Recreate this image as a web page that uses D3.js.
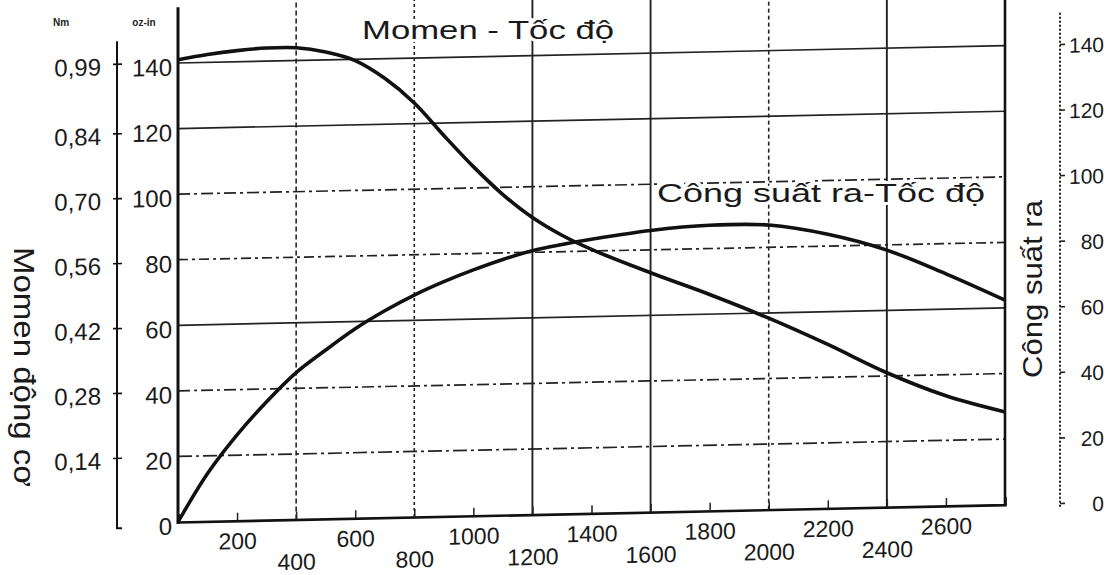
<!DOCTYPE html>
<html>
<head>
<meta charset="utf-8">
<script src="https://cdn.jsdelivr.net/npm/d3@7/dist/d3.min.js"></script>
<style>
  body { margin: 0; background: #fff; }
  svg { display: block; font-family: "Liberation Sans", Arial, sans-serif; }
</style>
</head>
<body>
<div id="chart"></div>
<script>
// speed (rpm) sample points
const rpm = [0, 100, 200, 300, 400, 500, 600, 700, 800, 900, 1000, 1100, 1200, 1300, 1400, 1600, 1800, 2000, 2200, 2400, 2600, 2800];
// torque, oz-in
const torque = [141, 142.4, 143.4, 144, 143.9, 142.4, 139.6, 134, 126.3, 116.2, 106.5, 97.8, 90.6, 85, 80.5, 73, 66, 58.4, 50, 41, 33.6, 28.3];
// output power (right scale)
const power = [0, 14.6, 26.2, 36.1, 44.8, 51.5, 57.8, 63.1, 67.7, 71.6, 75, 78, 80.5, 82.2, 83.6, 85.9, 87.1, 86.8, 83.6, 78.4, 70.8, 62.4];

const xTicks = [200, 400, 600, 800, 1000, 1200, 1400, 1600, 1800, 2000, 2200, 2400, 2600];
const ozTicks = [0, 20, 40, 60, 80, 100, 120, 140];
const nmTicks = [0.14, 0.28, 0.42, 0.56, 0.70, 0.84, 0.99];
const powerTicks = [0, 20, 40, 60, 80, 100, 120, 140];
const vGrid = [400, 800, 1200, 1600, 2000, 2400];
const hGrid = [20, 40, 60, 80, 100, 120, 140];

const width = 1119, height = 575;
const left = 178, plotW = 827;

// the scanned chart leans a little, horizontal lines rise to the right
const tilt = -1.2;

const dashH = { 20: "14,4,3,4", 40: "12,4,3,4", 60: null, 80: "10,4,3,4", 100: "12,4,3,4", 120: null, 140: null };
const dashV = { 400: "5,3", 800: "3,3", 1200: null, 1600: null, 2000: "4,3", 2400: null };

const svg = d3.select("#chart").append("svg")
  .attr("width", width)
  .attr("height", height);

svg.append("rect").attr("width", width).attr("height", height).attr("fill", "#fff");

const x = d3.scaleLinear().domain([0, 2800]).range([0, plotW]);
const y = d3.scaleLinear().domain([0, 140]).range([522, 63]);
const yNm = d3.scaleLinear().domain([0, 0.99]).range([y(0), y(140)]);

const g = svg.append("g")
  .attr("transform", `translate(${left},0) skewY(${tilt})`);

// grid
g.append("g").selectAll("line")
  .data(hGrid)
  .join("line")
  .attr("x1", x(0)).attr("x2", x(2800))
  .attr("y1", d => y(d)).attr("y2", d => y(d))
  .attr("stroke", "#222")
  .attr("stroke-width", 1.7)
  .attr("stroke-dasharray", d => dashH[d]);

g.append("g").selectAll("line")
  .data(vGrid)
  .join("line")
  .attr("x1", d => x(d)).attr("x2", d => x(d))
  .attr("y1", y(0)).attr("y2", y(160))
  .attr("stroke", "#222")
  .attr("stroke-width", d => dashV[d] ? 1.6 : 1.9)
  .attr("stroke-dasharray", d => dashV[d]);

// frame
g.append("line")
  .attr("x1", x(0)).attr("x2", x(0))
  .attr("y1", y(0) + 2).attr("y2", y(157))
  .attr("stroke", "#111").attr("stroke-width", 3);
g.append("line")
  .attr("x1", x(2800)).attr("x2", x(2800))
  .attr("y1", y(0) + 1).attr("y2", y(160))
  .attr("stroke", "#111").attr("stroke-width", 2.6);

// bottom axis
const xAxis = g.append("g")
  .attr("transform", `translate(0,${y(0)})`)
  .call(d3.axisBottom(x).tickValues(xTicks).tickSize(-8).tickPadding(12).tickFormat(d3.format("d")));
xAxis.select(".domain").attr("stroke", "#111").attr("stroke-width", 2.6);
xAxis.selectAll(".tick line").attr("stroke", "#222").attr("stroke-width", 1.5);
xAxis.selectAll(".tick text")
  .attr("font-size", 23)
  .attr("fill", "#1a1a1a")
  .attr("font-family", "Liberation Sans, Arial, sans-serif")
  .attr("y", d => d % 400 === 0 ? 34 : 12);

// inner left axis (oz-in)
const yAxis = g.append("g")
  .call(d3.axisLeft(y).tickValues(ozTicks).tickSize(0).tickPadding(6));
yAxis.select(".domain").remove();
yAxis.selectAll(".tick text")
  .attr("font-size", 24)
  .attr("fill", "#1a1a1a")
  .attr("dy", "0.5em")
  .attr("font-family", "Liberation Sans, Arial, sans-serif");

// outer left axis (Nm)
const nmAxis = g.append("g").attr("transform", "translate(-61,0)");
nmAxis.append("path")
  .attr("d", `M0,${y(147)}V${y(0) + 5}h5`)
  .attr("fill", "none")
  .attr("stroke", "#111")
  .attr("stroke-width", 2);
nmAxis.selectAll(".tk")
  .data(nmTicks)
  .join("line")
  .attr("class", "tk")
  .attr("x1", -4).attr("x2", 5)
  .attr("y1", d => yNm(d)).attr("y2", d => yNm(d))
  .attr("stroke", "#111").attr("stroke-width", 1.6);
nmAxis.selectAll(".lb")
  .data(nmTicks)
  .join("text")
  .attr("class", "lb")
  .attr("x", -16)
  .attr("y", d => yNm(d))
  .attr("dy", "0.45em")
  .attr("text-anchor", "end")
  .attr("font-size", 24)
  .attr("fill", "#1a1a1a")
  .text(d => d3.format(".2f")(d).replace(".", ","));

// right axis (output power)
const pAxis = g.append("g").attr("transform", "translate(882,0)");
pAxis.append("line")
  .attr("x1", 0).attr("x2", 0)
  .attr("y1", y(-1)).attr("y2", y(150))
  .attr("stroke", "#222")
  .attr("stroke-width", 2)
  .attr("stroke-dasharray", "2,2");
pAxis.selectAll(".tk")
  .data(powerTicks)
  .join("line")
  .attr("class", "tk")
  .attr("x1", 0).attr("x2", 5)
  .attr("y1", d => y(d)).attr("y2", d => y(d))
  .attr("stroke", "#222").attr("stroke-width", 1.6);
pAxis.selectAll(".lb")
  .data(powerTicks)
  .join("text")
  .attr("class", "lb")
  .attr("x", 44)
  .attr("y", d => y(d))
  .attr("dy", "0.4em")
  .attr("text-anchor", "end")
  .attr("font-size", 21)
  .attr("fill", "#1a1a1a")
  .text(d => d);

// curves
const line = d3.line().curve(d3.curveCatmullRom.alpha(0.5));

g.append("path")
  .datum(rpm.map((r, i) => [x(r), y(torque[i])]))
  .attr("d", line)
  .attr("fill", "none")
  .attr("stroke", "#111")
  .attr("stroke-width", 3.6);

g.append("path")
  .datum(rpm.map((r, i) => [x(r), y(power[i])]))
  .attr("d", line)
  .attr("fill", "none")
  .attr("stroke", "#111")
  .attr("stroke-width", 3.6);

// titles and axis names
svg.append("text")
  .attr("x", 362).attr("y", 39)
  .attr("font-size", 25)
  .attr("textLength", 252)
  .attr("lengthAdjust", "spacingAndGlyphs")
  .attr("fill", "#1a1a1a")
  .attr("stroke", "#fff").attr("stroke-width", 6)
  .attr("paint-order", "stroke")
  .text("Momen - Tốc độ");

svg.append("text")
  .attr("x", 657).attr("y", 202)
  .attr("font-size", 26)
  .attr("textLength", 328)
  .attr("lengthAdjust", "spacingAndGlyphs")
  .attr("fill", "#1a1a1a")
  .attr("stroke", "#fff").attr("stroke-width", 6)
  .attr("paint-order", "stroke")
  .text("Công suất ra-Tốc độ");

svg.append("text")
  .attr("transform", "translate(14,367) rotate(90)")
  .attr("text-anchor", "middle")
  .attr("font-size", 29)
  .attr("textLength", 240)
  .attr("lengthAdjust", "spacingAndGlyphs")
  .attr("fill", "#1a1a1a")
  .text("Momen động cơ");

svg.append("text")
  .attr("transform", "translate(1042,289) rotate(-90)")
  .attr("text-anchor", "middle")
  .attr("font-size", 28)
  .attr("textLength", 178)
  .attr("lengthAdjust", "spacingAndGlyphs")
  .attr("fill", "#1a1a1a")
  .text("Công suất ra");

svg.append("text")
  .attr("x", 61).attr("y", 26)
  .attr("text-anchor", "middle")
  .attr("font-size", 10)
  .attr("font-weight", "bold")
  .attr("fill", "#222")
  .text("Nm");

svg.append("text")
  .attr("x", 144).attr("y", 26)
  .attr("text-anchor", "middle")
  .attr("font-size", 10)
  .attr("font-weight", "bold")
  .attr("fill", "#222")
  .text("oz-in");
</script>
</body>
</html>
